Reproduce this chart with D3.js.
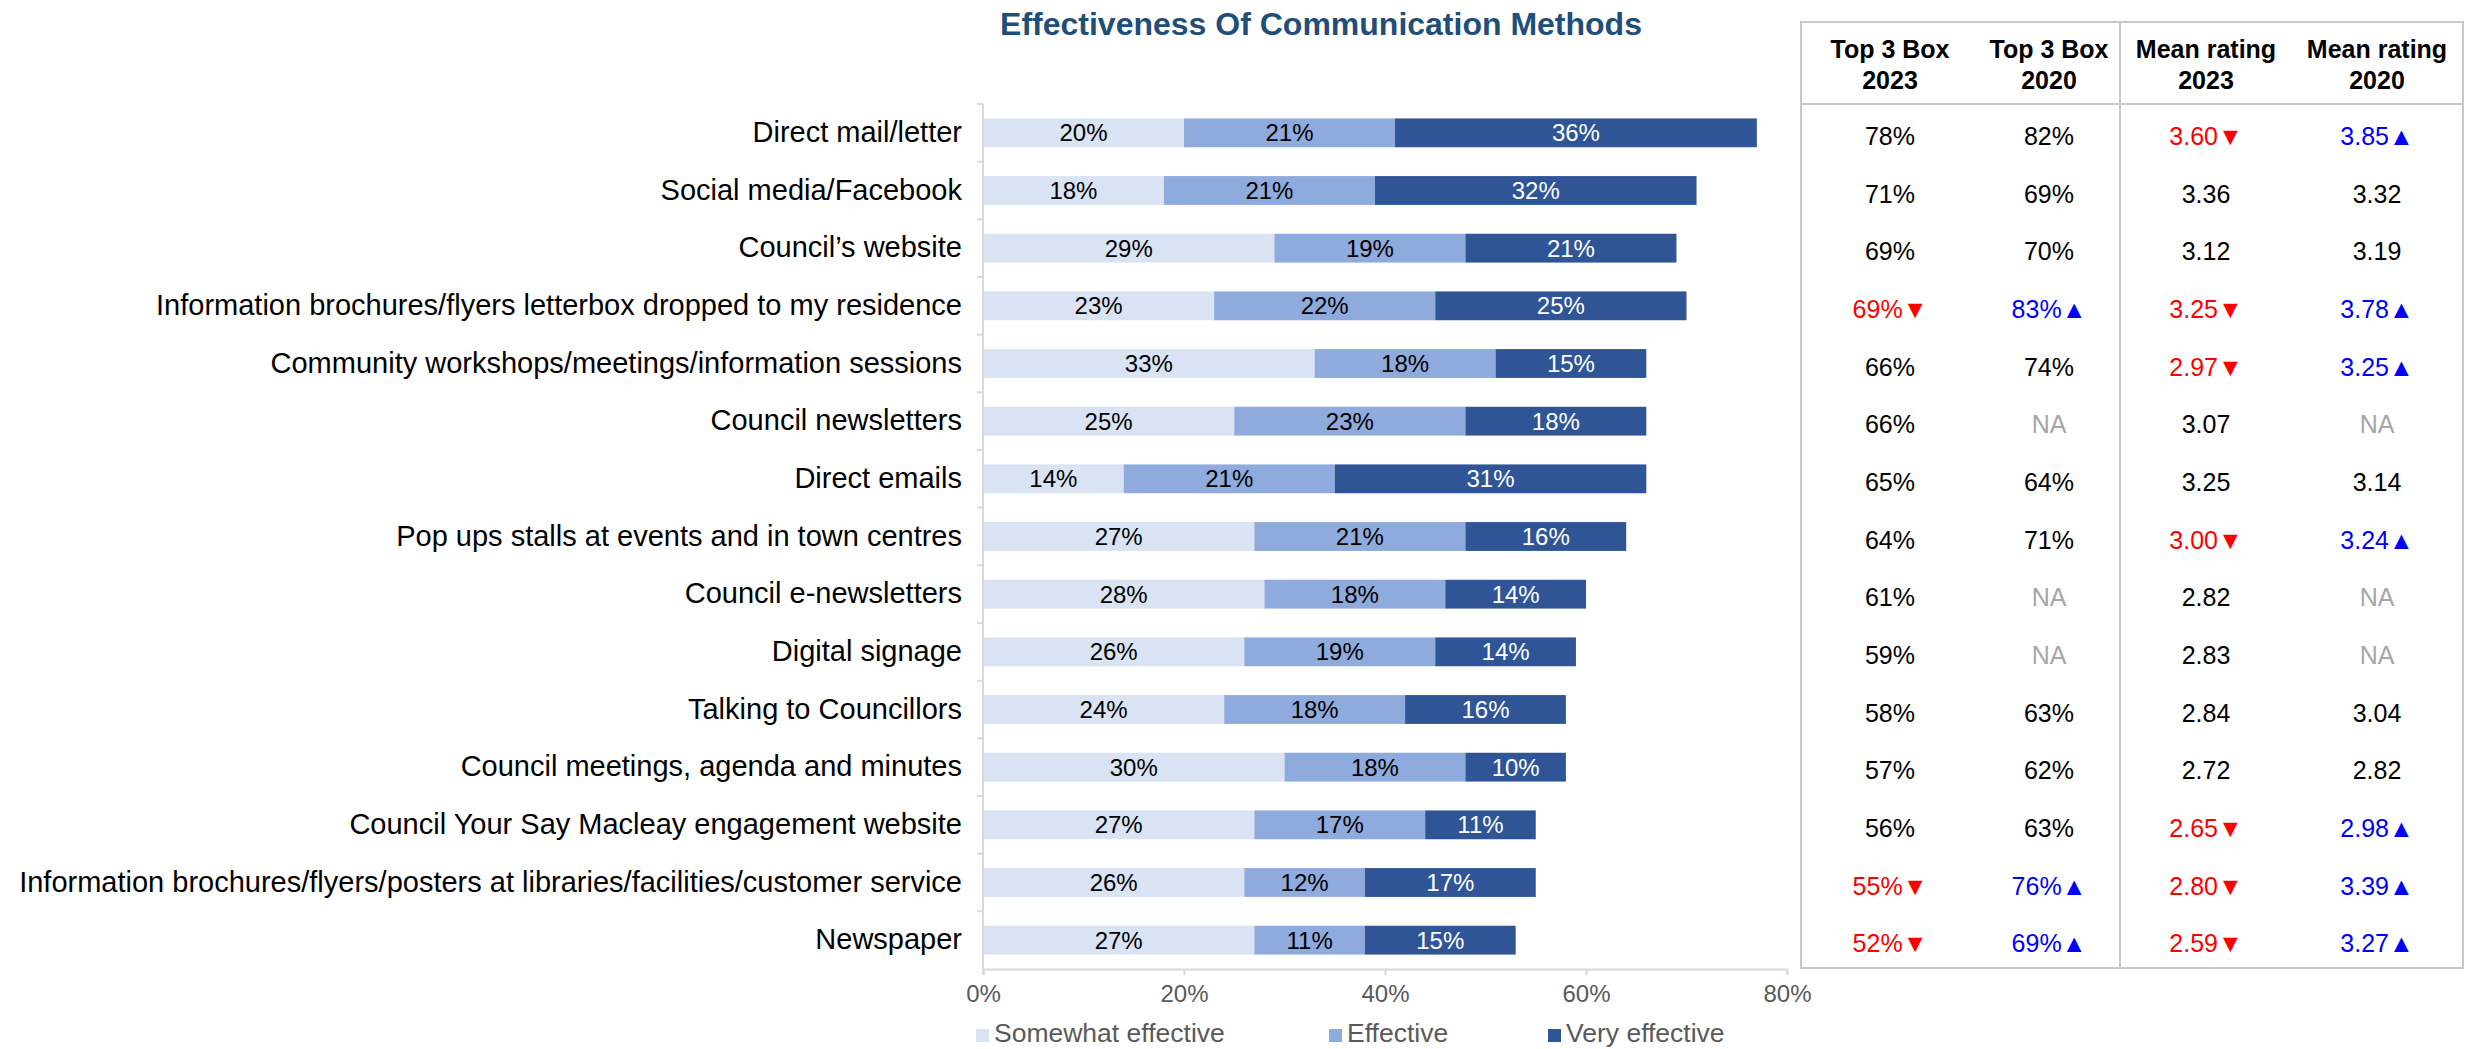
<!DOCTYPE html>
<html>
<head>
<meta charset="utf-8">
<script src="https://cdn.jsdelivr.net/npm/d3@7"></script>
<style>
  html, body { margin: 0; padding: 0; background: #fff; }
  svg { display: block; font-family: "Liberation Sans", Arial, sans-serif; }
</style>
</head>
<body>
<svg id="chart" width="2473" height="1049"></svg>
<script>
// Communication methods, ordered as listed in the survey summary
const categories = [
  "Direct mail/letter",
  "Social media/Facebook",
  "Council\u2019s website",
  "Information brochures/flyers letterbox dropped to my residence",
  "Community workshops/meetings/information sessions",
  "Council newsletters",
  "Direct emails",
  "Pop ups stalls at events and in town centres",
  "Council e-newsletters",
  "Digital signage",
  "Talking to Councillors",
  "Council meetings, agenda and minutes",
  "Council Your Say Macleay engagement website",
  "Information brochures/flyers/posters at libraries/facilities/customer service",
  "Newspaper"
];

// Stacked series (% of respondents)
const seriesNames = ["Somewhat effective", "Effective", "Very effective"];
const somewhatEffective = [20, 18, 29, 23, 33, 25, 14, 27, 28, 26, 24, 30, 27, 26, 27];
const effective         = [21, 21, 19, 22, 18, 23, 21, 21, 18, 19, 18, 18, 17, 12, 11];
const veryEffective     = [36, 32, 21, 25, 15, 18, 31, 16, 14, 14, 16, 10, 11, 17, 15];

// Summary table columns; trend: -1 = significantly lower, 1 = significantly higher, 0 = none
const tableHeaders = [["Top 3 Box", "2023"], ["Top 3 Box", "2020"], ["Mean rating", "2023"], ["Mean rating", "2020"]];
const top3Box2023 = ["78%", "71%", "69%", "69%", "66%", "66%", "65%", "64%", "61%", "59%", "58%", "57%", "56%", "55%", "52%"];
const top3Box2020 = ["82%", "69%", "70%", "83%", "74%", "NA", "64%", "71%", "NA", "NA", "63%", "62%", "63%", "76%", "69%"];
const mean2023    = ["3.60", "3.36", "3.12", "3.25", "2.97", "3.07", "3.25", "3.00", "2.82", "2.83", "2.84", "2.72", "2.65", "2.80", "2.59"];
const mean2020    = ["3.85", "3.32", "3.19", "3.78", "3.25", "NA", "3.14", "3.24", "NA", "NA", "3.04", "2.82", "2.98", "3.39", "3.27"];
const top3Trend2023 = [0, 0, 0, -1, 0, 0, 0, 0, 0, 0, 0, 0, 0, -1, -1];
const top3Trend2020 = [0, 0, 0, 1, 0, 0, 0, 0, 0, 0, 0, 0, 0, 1, 1];
const meanTrend2023 = [-1, 0, 0, -1, -1, 0, 0, -1, 0, 0, 0, 0, -1, -1, -1];
const meanTrend2020 = [1, 0, 0, 1, 1, 0, 0, 1, 0, 0, 0, 0, 1, 1, 1];

const xTicks = [0, 20, 40, 60, 80];

const colors = ["#DAE3F3", "#8FAADC", "#2F5597"];
const labelColors = ["#000000", "#000000", "#FFFFFF"];

const svg = d3.select("#chart");

// Scales
const x = d3.scaleLinear().domain([0, 80]).range([983, 1787]);
const y = d3.scaleBand().domain(categories).range([104, 969]).paddingInner(0.5).paddingOuter(0.25);
const step = y.step();
const gapHalf = (step - y.bandwidth()) / 2;

// Title
svg.append("text")
  .attr("x", 1321).attr("y", 35)
  .attr("text-anchor", "middle")
  .attr("font-size", 32).attr("font-weight", "bold")
  .attr("fill", "#1F4E79")
  .text("Effectiveness Of Communication Methods");

// Stack data
const rows = categories.map((c, i) => ({
  cat: c,
  [seriesNames[0]]: somewhatEffective[i],
  [seriesNames[1]]: effective[i],
  [seriesNames[2]]: veryEffective[i]
}));
const stacked = d3.stack().keys(seriesNames)(rows);

const layers = svg.append("g").selectAll("g")
  .data(stacked).join("g")
  .attr("fill", (d, i) => colors[i]);

layers.selectAll("rect")
  .data(d => d).join("rect")
  .attr("x", d => x(d[0]))
  .attr("y", d => y(d.data.cat))
  .attr("width", d => x(d[1]) - x(d[0]))
  .attr("height", y.bandwidth());

// Segment value labels
stacked.forEach((layer, li) => {
  svg.append("g").selectAll("text")
    .data(layer).join("text")
    .attr("x", d => (x(d[0]) + x(d[1])) / 2)
    .attr("y", d => y(d.data.cat) + y.bandwidth() / 2)
    .attr("dy", "0.36em")
    .attr("text-anchor", "middle")
    .attr("font-size", 24)
    .attr("fill", labelColors[li])
    .text(d => (d[1] - d[0]) + "%");
});

// Category axis: labels plus boundary ticks
const yAxis = svg.append("g")
  .attr("transform", `translate(${x(0)},0)`)
  .call(d3.axisLeft(y).tickSize(0).tickPadding(21));
yAxis.select(".domain").remove();
yAxis.selectAll("text").attr("font-size", 29).attr("fill", "#000");

svg.append("line")
  .attr("x1", x(0)).attr("x2", x(0))
  .attr("y1", y.range()[0]).attr("y2", y.range()[1])
  .attr("stroke", "#D9D9D9").attr("stroke-width", 2);
svg.append("g").selectAll("line")
  .data(categories).join("line")
  .attr("x1", x(0) - 6).attr("x2", x(0))
  .attr("y1", d => y(d) - gapHalf).attr("y2", d => y(d) - gapHalf)
  .attr("stroke", "#D9D9D9").attr("stroke-width", 2);

// Value axis
const xAxis = svg.append("g")
  .attr("transform", `translate(0,${y.range()[1]})`)
  .call(d3.axisBottom(x).tickValues(xTicks).tickSize(6).tickPadding(10).tickFormat(d => d + "%"));
xAxis.select(".domain").attr("stroke", "#D9D9D9").attr("stroke-width", 2);
xAxis.selectAll(".tick line").attr("stroke", "#D9D9D9").attr("stroke-width", 2);
xAxis.selectAll("text").attr("font-size", 24).attr("fill", "#595959");

// Legend
const legendX = [976, 1329, 1548];
const legend = svg.append("g").selectAll("g")
  .data(seriesNames).join("g")
  .attr("transform", (d, i) => `translate(${legendX[i]},1029)`);
legend.append("rect").attr("width", 13).attr("height", 13).attr("fill", (d, i) => colors[i]);
legend.append("text")
  .attr("x", 18).attr("y", 13)
  .attr("font-size", 26.5).attr("fill", "#595959")
  .text(d => d);

// Summary table
const table = svg.append("g");
const tLeft = 1801, tRight = 2463, tMid = 2120, tTop = 22, tHead = 104, tBottom = 968;
const colX = [1890, 2049, 2206, 2377];
const border = "#C9C9C9";
table.append("rect")
  .attr("x", tLeft).attr("y", tTop)
  .attr("width", tRight - tLeft).attr("height", tBottom - tTop)
  .attr("fill", "none").attr("stroke", border).attr("stroke-width", 2);
table.append("line").attr("x1", tLeft).attr("x2", tRight).attr("y1", tHead).attr("y2", tHead)
  .attr("stroke", border).attr("stroke-width", 2);
table.append("line").attr("x1", tMid).attr("x2", tMid).attr("y1", tTop).attr("y2", tBottom)
  .attr("stroke", border).attr("stroke-width", 2);

tableHeaders.forEach((h, j) => {
  const t = table.append("text")
    .attr("text-anchor", "middle")
    .attr("font-size", 25).attr("font-weight", "bold").attr("fill", "#000");
  t.append("tspan").attr("x", colX[j]).attr("y", 58).text(h[0]);
  t.append("tspan").attr("x", colX[j]).attr("y", 89).text(h[1]);
});

const tableCols = [
  [top3Box2023, top3Trend2023],
  [top3Box2020, top3Trend2020],
  [mean2023, meanTrend2023],
  [mean2020, meanTrend2020]
];
tableCols.forEach(([vals, trend], j) => {
  table.append("g").selectAll("text")
    .data(categories).join("text")
    .attr("x", colX[j])
    .attr("y", d => y(d) + y.bandwidth() / 2 + 3)
    .attr("dy", "0.36em")
    .attr("text-anchor", "middle")
    .attr("font-size", 25)
    .attr("fill", (d, i) => vals[i] === "NA" ? "#A6A6A6" : trend[i] < 0 ? "#FF0000" : trend[i] > 0 ? "#0000FF" : "#000")
    .text((d, i) => vals[i] + (trend[i] < 0 ? "\u25BC" : trend[i] > 0 ? "\u25B2" : ""));
});
</script>
</body>
</html>
